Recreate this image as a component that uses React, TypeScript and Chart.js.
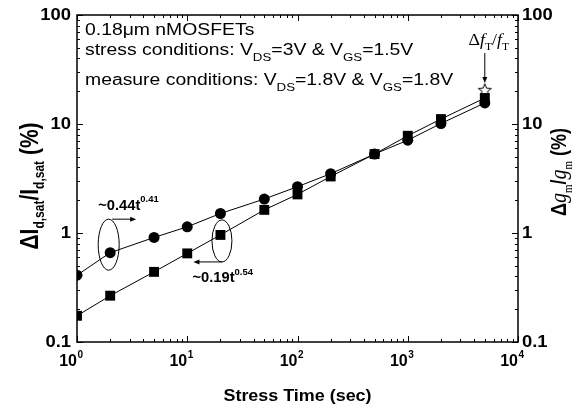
import React, { useEffect, useRef } from "react";
import { Chart, registerables } from "chart.js";
Chart.register(...registerables);

// ---- data ----
const stressTime = [1, 2, 5, 10, 20, 50, 100, 200, 500, 1000, 2000, 5000];
const idsatShift = [0.41, 0.66, 0.91, 1.14, 1.51, 2.05, 2.66, 3.5, 5.3, 7.1, 10.1, 15.6];
const gmShift = [0.174, 0.266, 0.44, 0.65, 0.96, 1.63, 2.26, 3.3, 5.3, 7.8, 11.1, 17.3];
const ftTime = [5000];
const ftShift = [20.5];
const xTickExponents = [0, 1, 2, 3, 4];
const yTickValues = [0.1, 1, 10, 100];
const yTickLabels = ["0.1", "1", "10", "100"];

const SANS = '"Liberation Sans", Arial, sans-serif';
const SERIF = '"Liberation Serif", "Times New Roman", serif';

type Seg = { t: string; f: string; dy?: number };

function drawRich(
  ctx: CanvasRenderingContext2D,
  segs: Seg[],
  x: number,
  y: number,
  align: "left" | "center" | "right",
  sx = 1,
  sy = 1,
  rot = 0
) {
  ctx.save();
  ctx.translate(x, y);
  ctx.rotate(rot);
  ctx.scale(sx, sy);
  ctx.textAlign = "left";
  ctx.textBaseline = "alphabetic";
  const widths = segs.map((s) => {
    ctx.font = s.f;
    return ctx.measureText(s.t).width;
  });
  const total = widths.reduce((a, b) => a + b, 0);
  let cx = align === "left" ? 0 : align === "center" ? -total / 2 : -total;
  segs.forEach((s, i) => {
    ctx.font = s.f;
    ctx.fillText(s.t, cx, s.dy || 0);
    cx += widths[i];
  });
  ctx.restore();
}

function arrow(ctx: CanvasRenderingContext2D, x1: number, y1: number, x2: number, y2: number) {
  const ang = Math.atan2(y2 - y1, x2 - x1);
  const hl = 6, hw = 2.5;
  ctx.beginPath();
  ctx.moveTo(x1, y1);
  ctx.lineTo(x2 - Math.cos(ang) * hl * 0.8, y2 - Math.sin(ang) * hl * 0.8);
  ctx.stroke();
  ctx.beginPath();
  ctx.moveTo(x2, y2);
  ctx.lineTo(x2 - Math.cos(ang) * hl - Math.sin(ang) * hw, y2 - Math.sin(ang) * hl + Math.cos(ang) * hw);
  ctx.lineTo(x2 - Math.cos(ang) * hl + Math.sin(ang) * hw, y2 - Math.sin(ang) * hl - Math.cos(ang) * hw);
  ctx.closePath();
  ctx.fill();
}

function makeStar(): HTMLCanvasElement {
  const c = document.createElement("canvas");
  c.width = 16;
  c.height = 16;
  const g = c.getContext("2d")!;
  g.beginPath();
  for (let i = 0; i < 10; i++) {
    const r = i % 2 === 0 ? 6.8 : 2.9;
    const a = -Math.PI / 2 + (i * Math.PI) / 5;
    const px = 8 + r * Math.cos(a);
    const py = 8.5 + r * Math.sin(a);
    if (i === 0) g.moveTo(px, py);
    else g.lineTo(px, py);
  }
  g.closePath();
  g.fillStyle = "#fff";
  g.fill();
  g.strokeStyle = "#000";
  g.lineWidth = 1;
  g.stroke();
  return c;
}

const overlayPlugin = {
  id: "overlay",
  afterDraw(chart: any) {
    const ctx: CanvasRenderingContext2D = chart.ctx;
    const { left, right, top, bottom } = chart.chartArea;
    const xs = chart.scales.x;
    const ys = chart.scales.y;
    const ys2 = chart.scales.y2;
    ctx.save();
    ctx.strokeStyle = "#000";
    ctx.fillStyle = "#000";

    // frame
    ctx.lineWidth = 1.5;
    ctx.strokeRect(left, top, right - left, bottom - top);

    // ticks (inward)
    ctx.lineWidth = 1;
    const seg = (a: number, b: number, c: number, d: number) => {
      ctx.beginPath();
      ctx.moveTo(a, b);
      ctx.lineTo(c, d);
      ctx.stroke();
    };
    for (let e = 0; e <= 4; e++) {
      for (let m = 1; m <= 9; m++) {
        if (e === 4 && m > 1) break;
        const v = m * Math.pow(10, e);
        const px = Math.round(xs.getPixelForValue(v)) + 0.5;
        const len = m === 1 ? 6 : 3;
        seg(px, bottom, px, bottom - len);
        seg(px, top, px, top + len);
      }
    }
    for (let e = -1; e <= 2; e++) {
      for (let m = 1; m <= 9; m++) {
        if (e === 2 && m > 1) break;
        const v = m * Math.pow(10, e);
        const py = Math.round(ys.getPixelForValue(v)) + 0.5;
        const len = m === 1 ? 6 : 3;
        seg(left, py, left + len, py);
        const py2 = Math.round(ys2.getPixelForValue(v)) + 0.5;
        seg(right, py2, right - len, py2);
      }
    }

    // y tick labels
    ctx.textBaseline = "middle";
    yTickValues.forEach((v, i) => {
      const py = ys.getPixelForValue(v);
      ctx.save();
      ctx.translate(left - 6, py + 1);
      ctx.scale(1.15, 1);
      ctx.font = `bold 16px ${SANS}`;
      ctx.textAlign = "right";
      ctx.fillText(yTickLabels[i], 0, 0);
      ctx.restore();
      const py2 = ys2.getPixelForValue(v);
      ctx.save();
      ctx.translate(right + 4, py2 + 1);
      ctx.scale(1.15, 1);
      ctx.font = `bold 16px ${SANS}`;
      ctx.textAlign = "left";
      ctx.fillText(yTickLabels[i], 0, 0);
      ctx.restore();
    });

    // x tick labels 10^n
    ctx.textBaseline = "alphabetic";
    xTickExponents.forEach((n) => {
      const px = xs.getPixelForValue(Math.pow(10, n));
      ctx.font = `bold 16px ${SANS}`;
      ctx.textAlign = "right";
      ctx.fillText("10", px, bottom + 24);
      ctx.font = `bold 10px ${SANS}`;
      ctx.textAlign = "left";
      ctx.fillText(String(n), px + 0.5, bottom + 16);
    });

    // axis titles
    drawRich(ctx, [{ t: "Stress Time (sec)", f: `bold 16px ${SANS}` }], (left + right) / 2, bottom + 59, "center", 1.12, 1);

    drawRich(
      ctx,
      [
        { t: "\u0394I", f: `bold 21px ${SANS}` },
        { t: "d,sat", f: `bold 12px ${SANS}`, dy: 5 },
        { t: "/I", f: `bold 21px ${SANS}` },
        { t: "d,sat", f: `bold 12px ${SANS}`, dy: 5 },
        { t: " (%)", f: `bold 21px ${SANS}` },
      ],
      38,
      186,
      "center",
      1,
      1.2,
      -Math.PI / 2
    );

    drawRich(
      ctx,
      [
        { t: "\u0394", f: `bold 18px ${SANS}` },
        { t: "g", f: `italic 20px ${SERIF}` },
        { t: "m", f: `11px ${SERIF}`, dy: 5 },
        { t: "/", f: `bold 18px ${SANS}` },
        { t: "g", f: `italic 20px ${SERIF}` },
        { t: "m", f: `11px ${SERIF}`, dy: 5 },
        { t: " (%)", f: `bold 18px ${SANS}` },
      ],
      566,
      172,
      "center",
      1,
      1.2,
      -Math.PI / 2
    );

    // text block in plot
    const big = `16px ${SANS}`;
    const sub = `11px ${SANS}`;
    const tsx = 1.21;
    drawRich(ctx, [{ t: "0.18\u03BCm nMOSFETs", f: big }], left + 8, top + 20, "left", tsx, 1);
    drawRich(
      ctx,
      [
        { t: "stress conditions: V", f: big },
        { t: "DS", f: sub, dy: 6 },
        { t: "=3V & V", f: big },
        { t: "GS", f: sub, dy: 6 },
        { t: "=1.5V", f: big },
      ],
      left + 8,
      top + 40,
      "left",
      tsx,
      1
    );
    drawRich(
      ctx,
      [
        { t: "measure conditions: V", f: big },
        { t: "DS", f: sub, dy: 6 },
        { t: "=1.8V & V", f: big },
        { t: "GS", f: sub, dy: 6 },
        { t: "=1.8V", f: big },
      ],
      left + 8,
      top + 70,
      "left",
      tsx,
      1
    );

    // fT annotation
    const sx5 = xs.getPixelForValue(ftTime[0]);
    const sy5 = ys2.getPixelForValue(ftShift[0]);
    drawRich(
      ctx,
      [
        { t: "\u0394", f: `17px ${SERIF}` },
        { t: "f", f: `italic 17px ${SERIF}` },
        { t: "T", f: `11px ${SERIF}`, dy: 5 },
        { t: "/", f: `17px ${SERIF}` },
        { t: "f", f: `italic 17px ${SERIF}` },
        { t: "T", f: `11px ${SERIF}`, dy: 5 },
      ],
      sx5 + 4,
      45,
      "center",
      1.05,
      1
    );
    ctx.lineWidth = 1;
    arrow(ctx, sx5, 53, sx5, sy5 - 7);

    // power-law fit annotations
    const p1x = xs.getPixelForValue(stressTime[1]);
    const p1y = ys.getPixelForValue(idsatShift[1]);
    ctx.beginPath();
    ctx.ellipse(p1x - 1.5, p1y - 8, 10.5, 25.5, 0, 0, Math.PI * 2);
    ctx.stroke();
    arrow(ctx, p1x + 2, p1y - 33.5, p1x + 26, p1y - 33.5);
    drawRich(
      ctx,
      [
        { t: "~0.44t", f: `bold 14px ${SANS}` },
        { t: "0.41", f: `bold 9px ${SANS}`, dy: -8 },
      ],
      p1x - 12,
      p1y - 43,
      "left",
      1.05,
      1
    );

    const p2x = xs.getPixelForValue(stressTime[4]);
    const p2y = ys2.getPixelForValue(gmShift[4]);
    ctx.beginPath();
    ctx.ellipse(p2x + 1.5, p2y + 6, 10, 21, 0, 0, Math.PI * 2);
    ctx.stroke();
    arrow(ctx, p2x + 1.5, p2y + 27, p2x - 27, p2y + 27);
    drawRich(
      ctx,
      [
        { t: "~0.19t", f: `bold 14px ${SANS}` },
        { t: "0.54", f: `bold 9px ${SANS}`, dy: -7 },
      ],
      p2x - 28,
      p2y + 47,
      "left",
      1.05,
      1
    );

    ctx.restore();
  },
};

export default function App() {
  const ref = useRef<HTMLCanvasElement>(null);
  useEffect(() => {
    if (!ref.current) return;
    const star = makeStar();
    const chart = new Chart(ref.current, {
      type: "line",
      data: {
        datasets: [
          {
            label: "dIdsat",
            data: stressTime.map((t, i) => ({ x: t, y: idsatShift[i] })),
            yAxisID: "y",
            borderColor: "#000",
            borderWidth: 1,
            pointStyle: "circle",
            pointRadius: 5.5,
            pointBackgroundColor: "#000",
            pointBorderColor: "#000",
            pointBorderWidth: 0,
            tension: 0,
            clip: 0,
          },
          {
            label: "dgm",
            data: stressTime.map((t, i) => ({ x: t, y: gmShift[i] })),
            yAxisID: "y2",
            borderColor: "#000",
            borderWidth: 1,
            pointStyle: "rect",
            pointRadius: 7,
            pointBackgroundColor: "#000",
            pointBorderColor: "#000",
            pointBorderWidth: 0,
            tension: 0,
            clip: 0,
          },
          {
            label: "dfT",
            data: ftTime.map((t, i) => ({ x: t, y: ftShift[i] })),
            yAxisID: "y2",
            showLine: false,
            pointStyle: star as any,
            pointRadius: 8,
          },
        ],
      },
      options: {
        responsive: false,
        animation: false,
        events: [],
        layout: { padding: { top: 15, left: 0, right: 0, bottom: 0 } },
        plugins: { legend: { display: false }, tooltip: { enabled: false } },
        scales: {
          x: {
            type: "logarithmic",
            min: 1,
            max: 10000,
            ticks: { display: false },
            grid: { display: false },
            border: { display: false },
            afterFit: (s: any) => {
              s.height = 70;
            },
          },
          y: {
            type: "logarithmic",
            position: "left",
            min: 0.1,
            max: 100,
            ticks: { display: false },
            grid: { display: false },
            border: { display: false },
            afterFit: (s: any) => {
              s.width = 77;
            },
          },
          y2: {
            type: "logarithmic",
            position: "right",
            min: 0.1,
            max: 100,
            ticks: { display: false },
            grid: { display: false },
            border: { display: false },
            afterFit: (s: any) => {
              s.width = 55;
            },
          },
        },
      },
      plugins: [overlayPlugin],
    });
    return () => chart.destroy();
  }, []);
  return (
    <div style={{ position: "absolute", left: 0, top: 0, width: 573, height: 412, background: "#fff" }}>
      <canvas ref={ref} width={573} height={412} />
    </div>
  );
}
